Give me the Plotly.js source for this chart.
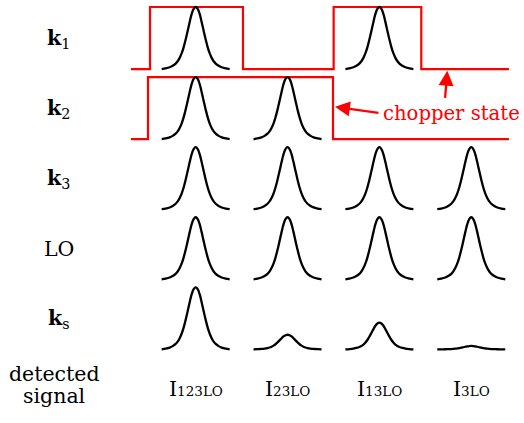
<!DOCTYPE html>
<html><head><meta charset="utf-8">
<script src="https://cdn.plot.ly/plotly-3.0.1.min.js"></script>
<style>html,body{margin:0;padding:0;background:#fff;}</style>
</head><body><div id="chart" style="width:524px;height:423px;"></div>
<script>
// ---------- data ----------
const rowLabels = ['<b>k</b><sub>1</sub>', '<b>k</b><sub>2</sub>', '<b>k</b><sub>3</sub>', 'LO', '<b>k</b><sub>s</sub>'];
const pulseTimes = [1, 2, 3, 4];
const k1Amp = [1, 0, 1, 0];
const k2Amp = [1, 1, 0, 0];
const k3Amp = [1, 1, 1, 1];
const loAmp = [1, 1, 1, 1];
const ksAmp = [1.0, 0.235, 0.43, 0.055];
const signalLabels = ['123LO', '23LO', '13LO', '3LO'];
const k1ChopperEdges = [0.503, 1.515, 2.502, 3.456];
const k2ChopperEdges = [0.481, 2.495];
const chopperSpan = [0.295, 4.41];
const pulseOffsets = [0, 0.022, 0.044, 0.065, 0.087, 0.109, 0.131, 0.152, 0.174, 0.196, 0.218, 0.25, 0.283, 0.327, 0.37];
const pulseProfile = [1, 0.97, 0.885, 0.76, 0.615, 0.475, 0.35, 0.255, 0.18, 0.125, 0.088, 0.052, 0.028, 0.01, 0.0];

// ---------- style constants ----------
const PULSE_H = 0.885;
const RED = '#ff0000';
const FONT = 'DejaVu Serif';

const rowAmps = [k1Amp, k2Amp, k3Amp, loAmp, ksAmp];

function pulseTrace(amps, row) {
  const xs = [], ys = [];
  amps.forEach((a, i) => {
    if (a <= 0) return;
    const t = pulseTimes[i];
    for (let j = pulseOffsets.length - 1; j > 0; j--) { xs.push(t - pulseOffsets[j]); ys.push(-row + a * pulseProfile[j] * PULSE_H); }
    for (let j = 0; j < pulseOffsets.length; j++) { xs.push(t + pulseOffsets[j]); ys.push(-row + a * pulseProfile[j] * PULSE_H); }
    xs.push(null); ys.push(null);
  });
  return {x: xs, y: ys, mode: 'lines', line: {color: '#000', width: 2.3, shape: 'spline', smoothing: 1}, hoverinfo: 'skip', connectgaps: false};
}

function chopperTrace(edges, row) {
  const xs = [chopperSpan[0]], ys = [-row];
  let state = 0;
  edges.forEach(e => {
    xs.push(e); ys.push(-row + state * PULSE_H);
    state = 1 - state;
    xs.push(e); ys.push(-row + state * PULSE_H);
  });
  xs.push(chopperSpan[1]); ys.push(-row + state * PULSE_H);
  return {x: xs, y: ys, mode: 'lines', line: {color: RED, width: 2.2}, hoverinfo: 'skip'};
}

const traces = [];
traces.push(chopperTrace(k1ChopperEdges, 0));
traces.push(chopperTrace(k2ChopperEdges, 1));
rowAmps.forEach((a, r) => traces.push(pulseTrace(a, r)));

const annotations = [];
rowLabels.forEach((lab, r) => {
  annotations.push({x: -0.493, y: -r + 0.43, xref: 'x', yref: 'y', text: lab, showarrow: false,
    xanchor: 'center', yanchor: 'middle', font: {family: FONT, size: 20.5, color: '#000'}});
});
annotations.push({x: -0.542, y: -4 - 0.345, xref: 'x', yref: 'y', text: 'detected', showarrow: false,
  xanchor: 'center', yanchor: 'middle', font: {family: FONT, size: 20.5, color: '#000'}});
annotations.push({x: -0.542, y: -4 - 0.66, xref: 'x', yref: 'y', text: 'signal', showarrow: false,
  xanchor: 'center', yanchor: 'middle', font: {family: FONT, size: 20.5, color: '#000'}});
signalLabels.forEach((s, i) => {
  annotations.push({x: pulseTimes[i], y: -4 - 0.567, xref: 'x', yref: 'y',
    text: 'I<span style="font-size:13.5px">' + s + '</span>', showarrow: false,
    xanchor: 'center', yanchor: 'middle', font: {family: FONT, size: 20.5, color: '#000'}});
});
annotations.push({x: 3.02, y: -0.628, xref: 'x', yref: 'y', text: 'chopper state', showarrow: false,
  xanchor: 'left', yanchor: 'middle', font: {family: FONT, size: 19.6, color: RED}});
annotations.push({x: 2.516, y: -0.538, xref: 'x', yref: 'y', text: '', showarrow: true,
  ax: 45, ay: 6.4, arrowhead: 2, arrowsize: 1.3, arrowwidth: 2.3, arrowcolor: RED, standoff: 0});
annotations.push({x: 3.739, y: -0.024, xref: 'x', yref: 'y', text: '', showarrow: true,
  ax: -2.3, ay: 28.6, arrowhead: 2, arrowsize: 1.3, arrowwidth: 2.3, arrowcolor: RED, standoff: 0});

const layout = {
  width: 524, height: 423,
  margin: {l: 0, r: 0, t: 0, b: 0},
  paper_bgcolor: '#fff', plot_bgcolor: '#fff',
  showlegend: false,
  xaxis: {range: [-1.130, 4.574], visible: false, fixedrange: true},
  yaxis: {range: [-5.051, 0.985], visible: false, fixedrange: true},
  annotations: annotations
};

Plotly.newPlot('chart', traces, layout, {staticPlot: true, displayModeBar: false});
</script>
</body></html>
